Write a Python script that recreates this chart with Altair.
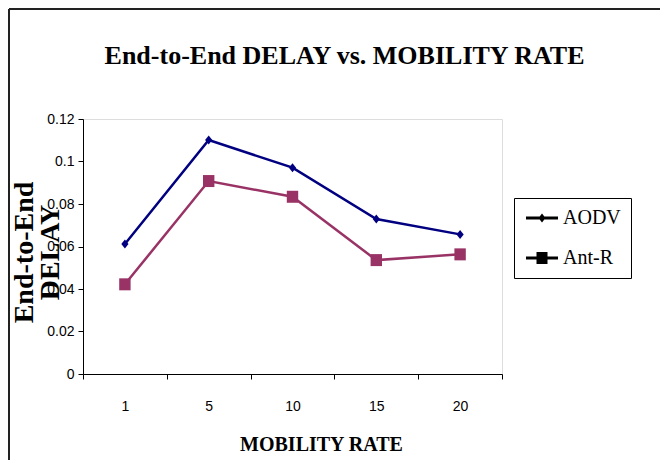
import altair as alt
import pandas as pd

mobility = ["1", "5", "10", "15", "20"]
aodv = [0.0612, 0.1101, 0.0971, 0.0729, 0.0657]
antr = [0.0422, 0.0908, 0.0834, 0.0536, 0.0563]
series_names = ["AODV", "Ant-R"]
series_colors = ["#000080", "#993366"]
y_ticks = [0, 0.02, 0.04, 0.06, 0.08, 0.1, 0.12]
chart_title = "End-to-End DELAY vs. MOBILITY RATE"

rows = []
for name, vals in zip(series_names, [aodv, antr]):
    for m, v in zip(mobility, vals):
        rows.append({"mobility": m, "delay": v, "series": name})
df = pd.DataFrame(rows)

cs = alt.Scale(domain=series_names, range=series_colors)

x_enc = alt.X("mobility:N", sort=mobility,
              scale=alt.Scale(paddingInner=0, paddingOuter=0),
              axis=alt.Axis(title="MOBILITY RATE", labelAngle=0, tickBand="extent",
                            labelFont="Liberation Sans", labelFontSize=14, labelColor="black",
                            labelPadding=20, tickSize=5, tickColor="black", domainColor="black",
                            titleFont="Liberation Serif", titleFontSize=20, titleFontWeight="bold",
                            titleColor="black", titleX=238, titleY=76, titleBaseline="alphabetic",
                            titleAlign="center", grid=False))
y_enc = alt.Y("delay:Q", scale=alt.Scale(domain=[0, 0.12], nice=False),
              axis=alt.Axis(title=["End-to-End", "DELAY"], values=y_ticks, format=".2~f",
                            labelFont="Liberation Sans", labelFontSize=14, labelColor="black",
                            labelPadding=4, tickSize=5, tickColor="black", domainColor="black",
                            titleFont="Liberation Serif", titleFontSize=28, titleFontWeight="bold",
                            titleLineHeight=26, titleColor="black", titleAngle=270,
                            titleX=-59, titleY=133, titleAlign="center", titleBaseline="middle",
                            grid=False))

base = alt.Chart(df)

lines = base.mark_line(strokeWidth=2.5).encode(
    x=x_enc, y=y_enc,
    color=alt.Color("series:N", scale=cs, legend=None),
)

pt_shapes = ["M0,-0.75L0.6,0L0,0.75L-0.6,0Z", "M-0.95,-1H0.95V1H-0.95Z"]
points = base.mark_point(filled=True, opacity=1, size=144).encode(
    x=x_enc, y=y_enc,
    color=alt.Color("series:N", scale=cs, legend=None),
    shape=alt.Shape("series:N", scale=alt.Scale(domain=series_names, range=pt_shapes), legend=None),
)

leg_shapes = [
    "M-0.8,-0.15H2.4V0.15H-0.8Z M0.8,-0.45L1.15,0L0.8,0.45L0.45,0Z",
    "M-0.8,-0.15H2.4V0.15H-0.8Z M0.25,-0.6H1.35V0.6H0.25Z",
]
leg = alt.Legend(title=None, orient="none", legendX=431, legendY=79, symbolSize=400,
                 symbolStrokeWidth=0, symbolOpacity=1, labelFont="Liberation Serif",
                 labelFontSize=20, labelColor="black", labelOffset=19, rowPadding=20,
                 padding=10, strokeColor="black", fillColor="white", labelLimit=300)
legend_layer = base.mark_point(filled=True, opacity=1).encode(
    x=x_enc, y=y_enc,
    color=alt.Color("series:N", scale=cs, legend=leg),
    shape=alt.Shape("series:N", scale=alt.Scale(domain=series_names, range=leg_shapes), legend=leg),
).transform_filter("datum.series == 'none'")

frame_df = pd.DataFrame({"k": [0]})
frame_top = alt.Chart(frame_df).mark_rule(color="#222222", strokeWidth=2).encode(
    x=alt.value(-74), x2=alt.value(577), y=alt.value(-110))
frame_left = alt.Chart(frame_df).mark_rule(color="#222222", strokeWidth=2).encode(
    x=alt.value(-74), y=alt.value(-110), y2=alt.value(341))

title_mark = alt.Chart(frame_df).mark_text(
    text=chart_title, font="Liberation Serif", fontSize=26, fontWeight="bold",
    color="black", align="center", baseline="alphabetic"
).encode(x=alt.value(261.5), y=alt.value(-55))

chart = alt.layer(lines, points, legend_layer, frame_top, frame_left, title_mark).resolve_scale(
    shape="independent"
).properties(
    width=419, height=255,
    autosize=alt.AutoSizeParams(type="none"),
    padding={"left": 75, "top": 111, "right": 158, "bottom": 86},
).configure_view(stroke=None).configure(background="white")

chart.save("out.html", embed_options={"renderer": "svg", "actions": False})
